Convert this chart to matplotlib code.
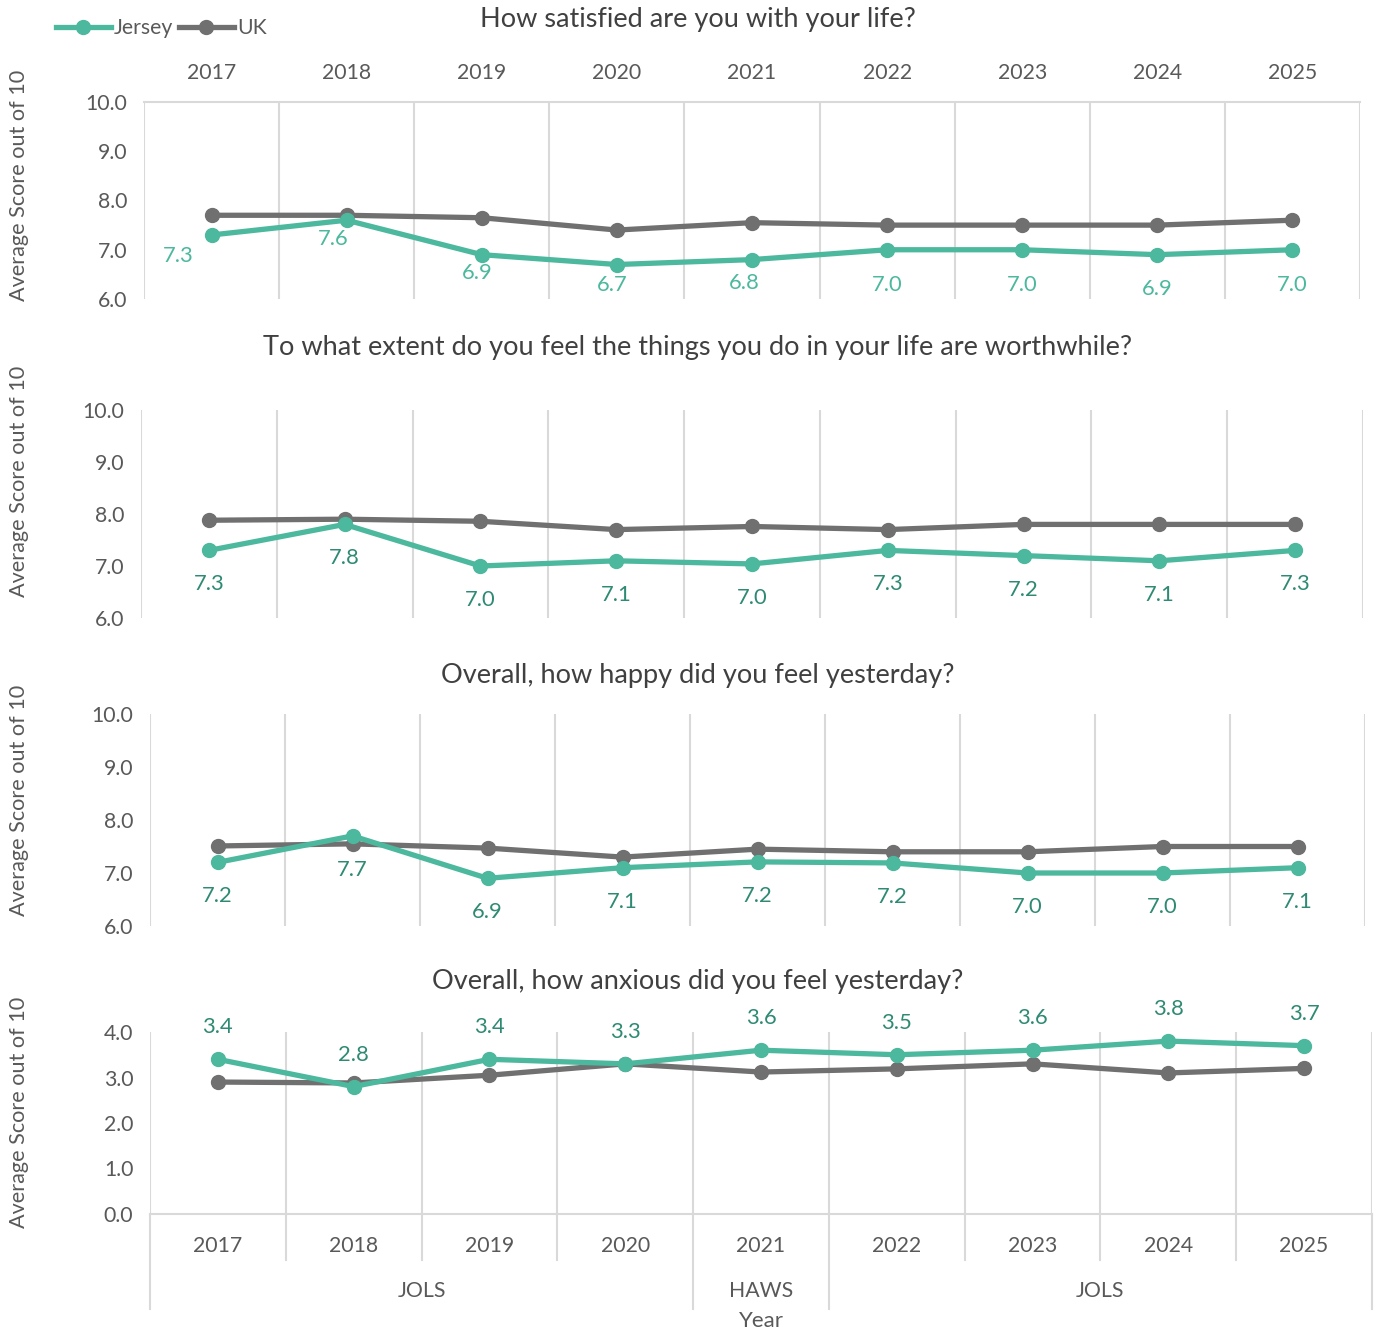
import numpy as np
import matplotlib.pyplot as plt
from matplotlib.lines import Line2D
import matplotlib.transforms as mtransforms

plt.rcParams['font.family'] = ['Lato', 'DejaVu Sans']

years = ['2017', '2018', '2019', '2020', '2021', '2022', '2023', '2024', '2025']
groups = ['JOLS', 'HAWS', 'JOLS']
group_spans = [(0, 3), (4, 4), (5, 8)]

titles = ['How satisfied are you with your life?',
          'To what extent do you feel the things you do in your life are worthwhile?',
          'Overall, how happy did you feel yesterday?',
          'Overall, how anxious did you feel yesterday?']

jersey_life = [7.3, 7.6, 6.9, 6.7, 6.8, 7.0, 7.0, 6.9, 7.0]
uk_life = [7.7, 7.7, 7.65, 7.4, 7.55, 7.5, 7.5, 7.5, 7.6]

jersey_worth = [7.3, 7.8, 7.0, 7.1, 7.04, 7.3, 7.2, 7.1, 7.3]
uk_worth = [7.88, 7.9, 7.86, 7.7, 7.76, 7.7, 7.8, 7.8, 7.8]

jersey_happy = [7.2, 7.7, 6.9, 7.1, 7.21, 7.19, 7.0, 7.0, 7.1]
uk_happy = [7.51, 7.55, 7.47, 7.3, 7.45, 7.4, 7.4, 7.5, 7.5]

jersey_anx = [3.4, 2.8, 3.4, 3.3, 3.6, 3.5, 3.6, 3.8, 3.7]
uk_anx = [2.9, 2.88, 3.05, 3.3, 3.12, 3.19, 3.3, 3.1, 3.2]

TEAL = '#4cb89d'
TEAL_DARK = '#2f8a73'
GREY = '#707070'
GRID = '#d9d9d9'
TXT = '#595959'
TITLE = '#404040'

W, H = 1378, 1332
fig = plt.figure(figsize=(W / 100, H / 100), dpi=100)


def box(l, t, r, b):
    return [l / W, 1 - b / H, (r - l) / W, (b - t) / H]


def panel(rect, jersey, uk, lo, hi, title, title_y, ylab_y, lab_color, lab_dy, lab_dx=None):
    ax = fig.add_axes(box(*rect))
    x = np.arange(len(years))
    ax.plot(x, uk, color=GREY, lw=3.8, marker='o', ms=10, zorder=3)
    ax.plot(x, jersey, color=TEAL, lw=3.8, marker='o', ms=10, zorder=4)
    ax.set_xlim(-0.5, 8.5)
    ax.set_ylim(lo, hi)
    ax.set_yticks(np.arange(lo, hi + 0.01, 1))
    ax.set_yticklabels(['%.1f' % v for v in np.arange(lo, hi + 0.01, 1)])
    ax.set_xticks(x)
    ax.set_xticklabels([])
    ax.set_xticks(np.arange(-0.5, 9, 1), minor=True)
    ax.grid(which='minor', axis='x', color=GRID, lw=1.5)
    ax.tick_params(which='both', length=0, labelsize=15.3, colors=TXT, pad=12)
    for s in ax.spines.values():
        s.set_visible(False)
    if np.isscalar(lab_dy):
        lab_dy = [lab_dy] * len(jersey)
    for i, v in enumerate(jersey):
        dx = 0 if lab_dx is None else lab_dx[i]
        ax.annotate('%.1f' % v, (i, v), xytext=(dx, lab_dy[i]), textcoords='offset pixels',
                    ha='center', va='center', fontsize=15.8, color=lab_color, zorder=5)
    fig.text(698 / W, 1 - title_y / H, title, ha='center', va='center',
             fontsize=19.5, color=TITLE)
    fig.text(19 / W, 1 - ylab_y / H, 'Average Score out of 10', rotation=90,
             ha='center', va='center', fontsize=15.6, color=TXT)
    return ax


ax1 = panel((144, 102, 1360, 299), jersey_life, uk_life, 6, 10, titles[0], 19, 185, TEAL,
            [-21, -19, -18, -20, -23, -35, -35, -34, -35],
            [-33, -13, -5, -5, -8, 0, 0, 0, 0])
ax1.spines['top'].set_visible(True)
ax1.spines['top'].set_color(GRID)
ax1.spines['top'].set_linewidth(1.5)
ax1.xaxis.tick_top()
ax1.set_xticklabels(years)
ax1.tick_params(axis='x', pad=14)

ax2 = panel((141, 410, 1363, 618), jersey_worth, uk_worth, 6, 10, titles[1], 348, 481,
            TEAL_DARK, -34)
ax3 = panel((150, 714, 1365, 926), jersey_happy, uk_happy, 6, 10, titles[2], 675, 800,
            TEAL_DARK, -34)
ax4 = panel((150, 1032, 1372, 1214), jersey_anx, uk_anx, 0, 4, titles[3], 981, 1112,
            TEAL_DARK, 32)

ax4.spines['bottom'].set_visible(True)
ax4.spines['bottom'].set_color(GRID)
ax4.spines['bottom'].set_linewidth(1.5)
ax4.set_xticklabels(years)
ax4.tick_params(axis='x', pad=16)

trans = mtransforms.blended_transform_factory(ax4.transData, ax4.transAxes)
for b in np.arange(-0.5, 9, 1):
    long_line = b in (-0.5, 3.5, 4.5, 8.5)
    ax4.plot([b, b], [0, -0.52 if long_line else -0.25], transform=trans, color=GRID,
             lw=1.5, clip_on=False)
for name, (a, c) in zip(groups, group_spans):
    ax4.text((a + c) / 2, -0.425, name, transform=trans, ha='center', va='center',
             fontsize=15.3, color=TXT)
fig.text(761 / W, 1 - 1321 / H, 'Year', ha='center', va='center', fontsize=16, color=TXT)

handles = [Line2D([], [], color=TEAL, lw=3.8, marker='o', ms=10),
           Line2D([], [], color=GREY, lw=3.8, marker='o', ms=10)]
fig.legend(handles, ['Jersey', 'UK'], loc='upper left', bbox_to_anchor=(47 / W, 1 - 10 / H),
           ncol=2, frameon=False, fontsize=15.3, handlelength=2.6, handletextpad=0.15,
           columnspacing=0.25, labelcolor=TXT, borderaxespad=0)

fig.savefig('out.png', dpi=100)
